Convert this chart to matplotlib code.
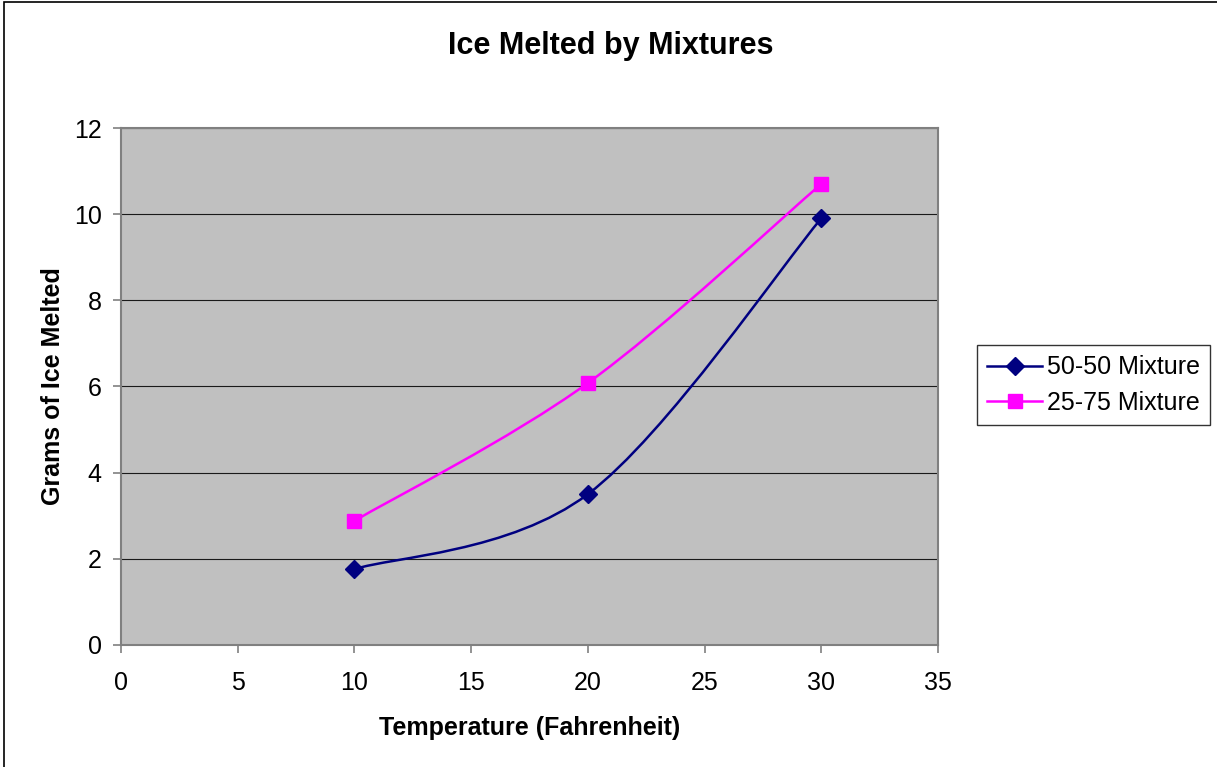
import numpy as np
import matplotlib
matplotlib.use("Agg")
import matplotlib.pyplot as plt
from matplotlib.path import Path
from matplotlib.patches import PathPatch, Rectangle
from matplotlib.lines import Line2D

# data
temperature = [10, 20, 30]
mix_50_50 = [1.76, 3.50, 9.90]
mix_25_75 = [2.88, 6.08, 10.70]
series_names = ["50-50 Mixture", "25-75 Mixture"]

NAVY = "#000080"
MAGENTA = "#FF00FF"

plt.rcParams.update({
    "font.family": ["Liberation Sans", "DejaVu Sans"],
    "font.size": 18,
})


def smooth_path(xs, ys):
    """Excel-like smoothed line: cubic Bezier through each point."""
    pts = np.column_stack([xs, ys]).astype(float)
    n = len(pts)
    verts = [pts[0]]
    codes = [Path.MOVETO]
    for i in range(n - 1):
        p0 = pts[i - 1] if i > 0 else pts[i]
        p1 = pts[i]
        p2 = pts[i + 1]
        p3 = pts[i + 2] if i + 2 < n else pts[i + 1]
        c1 = p1 + (p2 - p0) / 6.0
        c2 = p2 - (p3 - p1) / 6.0
        verts += [c1, c2, p2]
        codes += [Path.CURVE4] * 3
    return Path(verts, codes)


fig = plt.figure(figsize=(12.17, 7.67), dpi=100)
fig.patches.append(Rectangle((0.003, -0.01), 1.1, 1.008, transform=fig.transFigure,
                             fill=False, edgecolor="black", linewidth=1.2))

ax = fig.add_axes([0.0994, 0.1591, 0.6713, 0.6740])
ax.set_facecolor("#C0C0C0")

for ys, color, marker, ms in [(mix_50_50, NAVY, "D", 9), (mix_25_75, MAGENTA, "s", 10)]:
    ax.add_patch(PathPatch(smooth_path(temperature, ys), facecolor="none",
                           edgecolor=color, linewidth=1.8, zorder=3))
    ax.plot(temperature, ys, linestyle="none", marker=marker, markersize=ms,
            color=color, zorder=4)

ax.set_xlim(0, 35)
ax.set_ylim(0, 12)
ax.set_xticks(np.arange(0, 36, 5))
ax.set_yticks(np.arange(0, 13, 2))
ax.yaxis.grid(True, color="#1a1a1a", linewidth=0.8)
ax.set_axisbelow(True)
for sp in ax.spines.values():
    sp.set_color("#808080")
    sp.set_linewidth(1.5)
ax.tick_params(direction="out", length=6, width=1.2, color="#808080", labelsize=18)
ax.tick_params(axis="x", pad=13)
ax.tick_params(axis="y", pad=8)

ax.set_xlabel("Temperature (Fahrenheit)", fontsize=18, fontweight="bold", labelpad=15)
ax.set_ylabel("Grams of Ice Melted", fontsize=18, fontweight="bold", labelpad=6)
fig.text(0.502, 0.940, "Ice Melted by Mixtures", ha="center", va="center",
         fontsize=22, fontweight="bold")

handles = [
    Line2D([], [], color=NAVY, marker="D", markersize=9, linewidth=1.8),
    Line2D([], [], color=MAGENTA, marker="s", markersize=10, linewidth=1.8),
]
leg = fig.legend(handles, series_names, loc="center left",
                 bbox_to_anchor=(0.803, 0.498), fontsize=18, frameon=True,
                 fancybox=False, edgecolor="black", handlelength=2.2,
                 handletextpad=0.2, borderpad=0.4, labelspacing=0.45,
                 borderaxespad=0)
leg.get_frame().set_linewidth(1.0)

fig.savefig("out.png", dpi=100, facecolor="white")
